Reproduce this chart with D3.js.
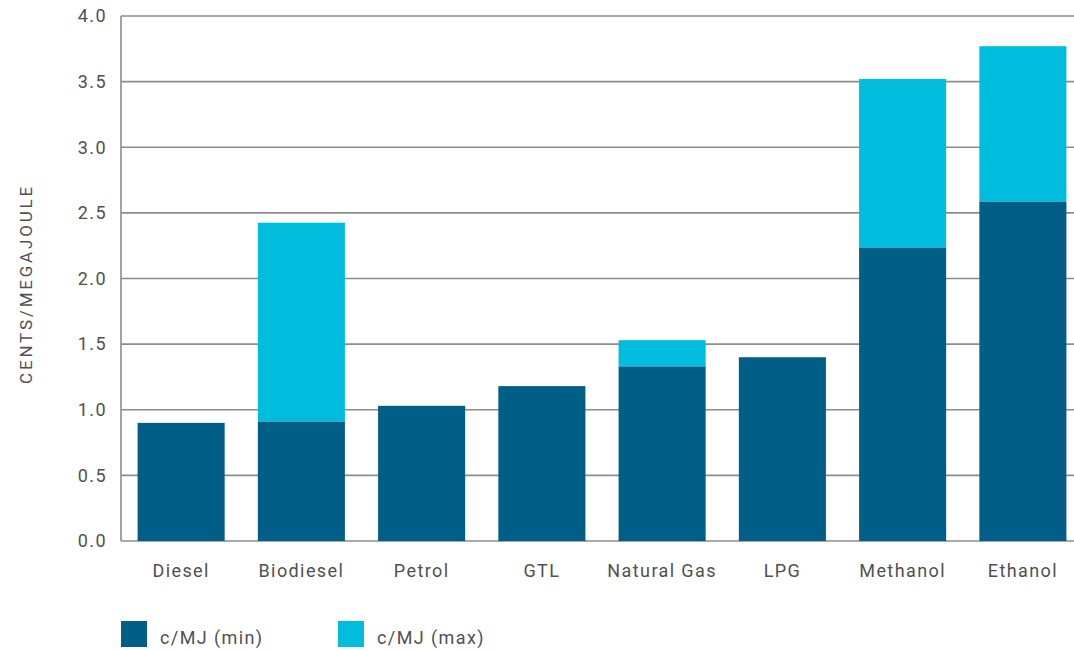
<!DOCTYPE html>
<html>
<head>
<meta charset="utf-8">
<script src="https://cdn.jsdelivr.net/npm/d3@7"></script>
<style>
  html, body { margin: 0; padding: 0; background: #fff; }
  svg { display: block; }
  text { font-family: Roboto, "DejaVu Sans", sans-serif; fill: #505050; }
</style>
</head>
<body>
<svg id="chart" width="1074" height="650"></svg>
<script>
// Fuel cost per megajoule, lower and upper estimates
const fuels = ["Diesel", "Biodiesel", "Petrol", "GTL", "Natural Gas", "LPG", "Methanol", "Ethanol"];
const costMin = [0.90, 0.91, 1.03, 1.18, 1.33, 1.40, 2.235, 2.585];
const costMax = [0.90, 2.425, 1.03, 1.18, 1.53, 1.40, 3.52, 3.77];
const yTicks = [0, 0.5, 1.0, 1.5, 2.0, 2.5, 3.0, 3.5, 4.0];
const seriesNames = ["c/MJ (min)", "c/MJ (max)"];
const seriesColors = ["#015e86", "#00bddd"];

const svg = d3.select("#chart");
const plotLeft = 121, plotRight = 1083, plotTop = 16, plotBottom = 541;
const labelFont = { size: 18, spacing: 1.4 };

const x = d3.scaleBand().domain(fuels).range([plotLeft, plotRight]).paddingInner(0.276).paddingOuter(0.138);
const y = d3.scaleLinear().domain([0, 4]).range([plotBottom, plotTop]);

// Horizontal gridlines
svg.append("g")
  .selectAll("line")
  .data(yTicks)
  .join("line")
  .attr("x1", plotLeft).attr("x2", 1074)
  .attr("y1", d => y(d)).attr("y2", d => y(d))
  .attr("stroke", "#8c8c8c")
  .attr("stroke-width", 1.6);

// Left axis line
svg.append("line")
  .attr("x1", plotLeft).attr("x2", plotLeft)
  .attr("y1", y(4)).attr("y2", y(0))
  .attr("stroke", "#8c8c8c")
  .attr("stroke-width", 1.6);

// Y tick labels
const yAxis = d3.axisLeft(y).tickValues(yTicks).tickFormat(d3.format(".1f")).tickSize(0).tickPadding(14);
const gy = svg.append("g").attr("transform", `translate(${plotLeft},0)`).call(yAxis);
gy.select(".domain").remove();
gy.selectAll("text")
  .attr("font-size", labelFont.size)
  .attr("letter-spacing", labelFont.spacing)
  .style("font-family", "Roboto, sans-serif")
  .attr("fill", "#505050");

// Upper-estimate segment (from min to max)
svg.append("g")
  .selectAll("rect")
  .data(fuels)
  .join("rect")
  .attr("x", d => x(d))
  .attr("width", x.bandwidth())
  .attr("y", (d, i) => y(costMax[i]))
  .attr("height", (d, i) => Math.max(0, y(costMin[i]) - y(costMax[i])))
  .attr("fill", seriesColors[1]);

// Lower-estimate bars
svg.append("g")
  .selectAll("rect")
  .data(fuels)
  .join("rect")
  .attr("x", d => x(d))
  .attr("width", x.bandwidth())
  .attr("y", (d, i) => y(costMin[i]))
  .attr("height", (d, i) => y(0) - y(costMin[i]))
  .attr("fill", seriesColors[0]);

// X category labels
const xAxis = d3.axisBottom(x).tickSize(0).tickPadding(23);
const gx = svg.append("g").attr("transform", `translate(0,${plotBottom})`).call(xAxis);
gx.select(".domain").remove();
gx.selectAll("text")
  .attr("font-size", labelFont.size)
  .attr("letter-spacing", labelFont.spacing)
  .style("font-family", "Roboto, sans-serif")
  .attr("fill", "#505050");

// Y axis title
svg.append("text")
  .attr("transform", `translate(32,284) rotate(-90)`)
  .attr("text-anchor", "middle")
  .attr("font-size", 17)
  .attr("letter-spacing", 2.8)
  .text("CENTS/MEGAJOULE");

// Legend
const legendX = [121, 338];
const legend = svg.append("g")
  .selectAll("g")
  .data(seriesNames)
  .join("g")
  .attr("transform", (d, i) => `translate(${legendX[i]},621)`);
legend.append("rect")
  .attr("width", 26).attr("height", 26)
  .attr("fill", (d, i) => seriesColors[i]);
legend.append("text")
  .attr("x", 39).attr("y", 23)
  .attr("font-size", labelFont.size)
  .attr("letter-spacing", labelFont.spacing)
  .text(d => d);
</script>
</body>
</html>
